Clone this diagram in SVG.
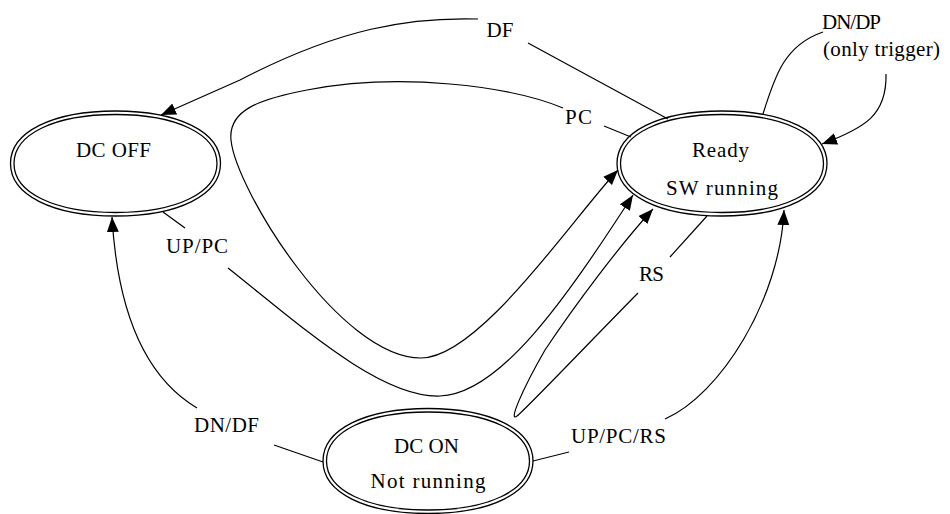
<svg xmlns="http://www.w3.org/2000/svg" xmlns:xlink="http://www.w3.org/1999/xlink" width="950" height="514" viewBox="0 0 950 514">
<style>
  .edge { fill: none; stroke: #000; stroke-width: 1.2; }
  .ring { fill: none; stroke: #000; stroke-width: 1.3; }
  text { font-family: "Liberation Serif", "Times New Roman", serif; font-size: 21px; fill: #000; text-anchor: middle; }
</style>
<defs>
  <marker id="arr" markerUnits="userSpaceOnUse" markerWidth="17" markerHeight="13" refX="15" refY="6" orient="auto">
    <path d="M0,0 L15,6 L0,12 Z" fill="#000"/>
  </marker>
  <g id="dbl">
    <path class="ring" d="M 105,0 C 105,31.5 63,52.5 0,52.5 C -63,52.5 -105,31.5 -105,0 C -105,-31.5 -63,-52.5 0,-52.5 C 63,-52.5 105,-31.5 105,0 Z"/>
    <path class="ring" d="M 101.5,0 C 101.5,29.4 60.9,49 0,49 C -60.9,49 -101.5,29.4 -101.5,0 C -101.5,-29.4 -60.9,-49 0,-49 C 60.9,-49 101.5,-29.4 101.5,0 Z"/>
  </g>
</defs>
<rect width="950" height="514" fill="#fff"/>

<g id="connectors">
  <!-- DF: Ready -> DC OFF -->
  <path class="edge" d="M 668 119 L 528 43"/>
  <path class="edge" d="M 478 19 C 410 17 340 28 240 80 L 161 115" marker-end="url(#arr)"/>
  <!-- PC: Ready self loop -->
  <path class="edge" d="M 631 137 L 604 126"/>
  <path class="edge" d="M 563 108 C 510 86 400 72 307 90 C 260 99 228 110 231 140 C 236 190 340 358 421 358 C 480 358 575 215 618 170" marker-end="url(#arr)"/>
  <!-- UP/PC: DC OFF -> Ready -->
  <path class="edge" d="M 163 212 L 185 228"/>
  <path class="edge" d="M 228 268 C 300 325 380 398 440 396 C 500 394 565 300 633 195" marker-end="url(#arr)"/>
  <!-- RS: Ready self loop -->
  <path class="edge" d="M 707 216 L 670 257"/>
  <path class="edge" d="M 638 293 C 580 352 525 410 517 416 C 508 423 522 390 545 350 C 575 305 620 245 653 209" marker-end="url(#arr)"/>
  <!-- UP/PC/RS: DC ON -> Ready -->
  <path class="edge" d="M 533 461 L 569 452"/>
  <path class="edge" d="M 665 419 C 720 395 780 300 784 210" marker-end="url(#arr)"/>
  <!-- DN/DF: DC ON -> DC OFF -->
  <path class="edge" d="M 323 462 L 274 445"/>
  <path class="edge" d="M 197 408 C 150 380 118 320 112 217" marker-end="url(#arr)"/>
  <!-- DN/DP: Ready self loop -->
  <path class="edge" d="M 763 114 C 775 75 785 45 823 32"/>
  <path class="edge" d="M 886 74 C 887 115 865 128 822 144" marker-end="url(#arr)"/>
</g>

<g id="edge-labels">
  <text x="500" y="37" textLength="27">DF</text>
  <text x="578.5" y="124" textLength="27">PC</text>
  <text x="197" y="253" textLength="62">UP/PC</text>
  <text x="651.5" y="281" textLength="25">RS</text>
  <text x="618.5" y="443" textLength="95">UP/PC/RS</text>
  <text x="226.5" y="432" textLength="65">DN/DF</text>
  <text x="851.5" y="29" textLength="59">DN/DP</text>
  <text x="881.5" y="56" textLength="117">(only trigger)</text>
</g>

<g id="node-dc-off">
  <use xlink:href="#dbl" href="#dbl" x="115.5" y="163.5"/>
  <text x="113.5" y="157" textLength="75">DC OFF</text>
</g>
<g id="node-ready">
  <use xlink:href="#dbl" href="#dbl" x="722" y="163.5"/>
  <text x="720.5" y="157" textLength="57">Ready</text>
  <text x="722" y="195" textLength="112">SW running</text>
</g>
<g id="node-dc-on">
  <use xlink:href="#dbl" href="#dbl" x="428" y="461"/>
  <text x="426.5" y="453" textLength="65">DC ON</text>
  <text x="428" y="488" textLength="115">Not running</text>
</g>
</svg>
